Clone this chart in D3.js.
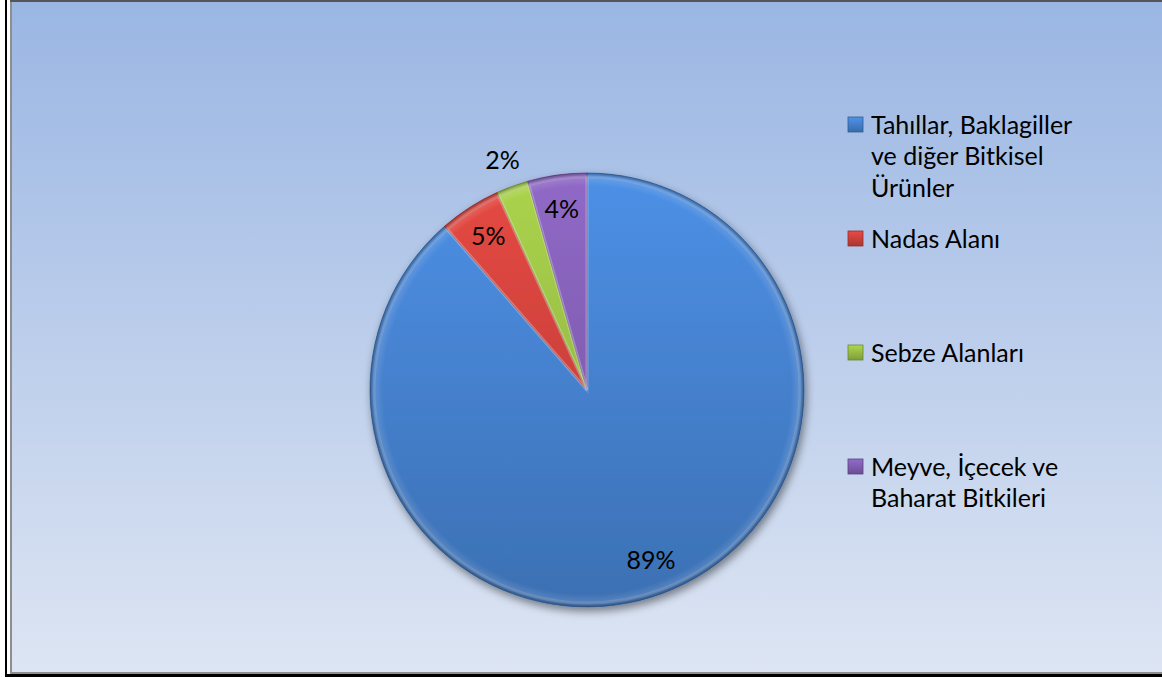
<!DOCTYPE html>
<html>
<head>
<meta charset="utf-8">
<script src="https://cdn.jsdelivr.net/npm/d3@7"></script>
<style>
  html, body { margin: 0; padding: 0; background: #fff; }
  svg { display: block; }
</style>
</head>
<body>
<div id="chart"></div>
<script>
// data
const categories = ["Tahıllar, Baklagiller ve diğer Bitkisel Ürünler", "Nadas Alanı", "Sebze Alanları", "Meyve, İçecek ve Baharat Bitkileri"];
const values = [88.6, 4.6, 2.4, 4.4];

const width = 1162, height = 677;
const cx = 587, cy = 390, radius = 217;
const fontFamily = "Lato, 'Open Sans', sans-serif";
const fontSize = 25;

const color = d3.scaleOrdinal()
    .domain(categories)
    .range(["#4684d2", "#d2433d", "#9cc246", "#8460b6"]);

const total = d3.sum(values);
const pct = d3.format(".0%");

const svg = d3.select("#chart").append("svg")
    .attr("width", width)
    .attr("height", height);

const defs = svg.append("defs");

// background gradient of the plot frame
const bg = defs.append("linearGradient")
    .attr("id", "bg").attr("x1", 0).attr("y1", 0).attr("x2", 0).attr("y2", 1);
bg.append("stop").attr("offset", "0%").attr("stop-color", "#9ab6e3");
bg.append("stop").attr("offset", "100%").attr("stop-color", "#dde5f3");

// shadow under the pie
const sh = defs.append("filter").attr("id", "shadow")
    .attr("x", "-20%").attr("y", "-20%").attr("width", "140%").attr("height", "140%");
sh.append("feDropShadow")
    .attr("dx", 2).attr("dy", 4).attr("stdDeviation", 4)
    .attr("flood-color", "#000").attr("flood-opacity", 0.45);

// frame lines
svg.append("rect").attr("x", 5).attr("y", 0).attr("width", 2).attr("height", 677).attr("fill", "#000");
svg.append("rect").attr("x", 5).attr("y", 674).attr("width", width - 5).attr("height", 3).attr("fill", "#000");
svg.append("rect").attr("x", 10).attr("y", 0).attr("width", width - 10).attr("height", 674).attr("fill", "#8e8e8e");
svg.append("rect").attr("x", 12).attr("y", 2).attr("width", width - 12).attr("height", 670).attr("fill", "url(#bg)");
svg.append("rect").attr("x", 10).attr("y", 0).attr("width", width - 10).attr("height", 2).attr("fill", "#555");

// slice gradients
categories.forEach((c, i) => {
    const base = d3.color(color(c));
    const g = defs.append("linearGradient")
        .attr("id", "grad" + i)
        .attr("gradientUnits", "userSpaceOnUse")
        .attr("x1", 0).attr("y1", -radius).attr("x2", 0).attr("y2", radius);
    g.append("stop").attr("offset", "0%").attr("stop-color", base.brighter(0.25));
    g.append("stop").attr("offset", "100%").attr("stop-color", base.darker(0.45));
});

// rim shading
const rim = defs.append("radialGradient")
    .attr("id", "rim").attr("gradientUnits", "userSpaceOnUse")
    .attr("cx", 0).attr("cy", 0).attr("r", radius);
rim.append("stop").attr("offset", "0%").attr("stop-color", "#fff").attr("stop-opacity", 0);
rim.append("stop").attr("offset", "94%").attr("stop-color", "#fff").attr("stop-opacity", 0);
rim.append("stop").attr("offset", "97%").attr("stop-color", "#fff").attr("stop-opacity", 0.1);
rim.append("stop").attr("offset", "100%").attr("stop-color", "#000").attr("stop-opacity", 0.28);

const pie = d3.pie().sort(null).value(d => d);
const arcs = pie(values);

const arc = d3.arc().innerRadius(0).outerRadius(radius);
const inner = d3.arc().innerRadius(0).outerRadius(radius - 4);
const labelIn = d3.arc().innerRadius(radius * 0.84).outerRadius(radius * 0.84);
const labelOut = d3.arc().innerRadius(radius * 1.13).outerRadius(radius * 1.13);

const g = svg.append("g").attr("transform", `translate(${cx},${cy})`);

const slices = g.append("g").attr("filter", "url(#shadow)");
slices.selectAll("path")
    .data(arcs)
    .join("path")
    .attr("d", arc)
    .attr("fill", (d, i) => `url(#grad${i})`)
    .attr("stroke", (d, i) => d3.color(color(categories[i])).darker(0.8))
    .attr("stroke-width", 0.8)
    .attr("stroke-linejoin", "round");

// bevel highlight on each wedge
g.append("g").selectAll("path")
    .data(arcs)
    .join("path")
    .attr("d", inner)
    .attr("fill", "none")
    .attr("stroke", "#fff")
    .attr("stroke-opacity", 0.15)
    .attr("stroke-width", 3);

g.append("circle").attr("r", radius).attr("fill", "url(#rim)").attr("pointer-events", "none");

// percentage labels
g.append("g").selectAll("text")
    .data(arcs)
    .join("text")
    .attr("transform", d => `translate(${(d.value / total < 0.03 ? labelOut : labelIn).centroid(d)})`)
    .attr("text-anchor", "middle")
    .attr("dy", "0.35em")
    .style("font-family", fontFamily)
    .style("font-size", fontSize + "px")
    .attr("fill", "#000")
    .text(d => pct(d.value / total));

// legend
const ly = d3.scalePoint().domain(categories).range([125, 467]);
const legend = svg.append("g");

categories.forEach((c, i) => {
    const base = d3.color(color(c));
    const lg = defs.append("linearGradient")
        .attr("id", "lgrad" + i).attr("x1", 0).attr("y1", 0).attr("x2", 0).attr("y2", 1);
    lg.append("stop").attr("offset", "0%").attr("stop-color", base.brighter(0.3));
    lg.append("stop").attr("offset", "100%").attr("stop-color", base.darker(0.6));
});

const item = legend.selectAll("g")
    .data(categories)
    .join("g")
    .attr("transform", d => `translate(0,${ly(d)})`);

item.append("rect")
    .attr("x", 848).attr("y", -8).attr("width", 15).attr("height", 15)
    .attr("fill", (d, i) => `url(#lgrad${i})`)
    .attr("stroke", (d, i) => d3.color(color(d)).darker(1))
    .attr("stroke-width", 0.8);

item.append("text")
    .attr("x", 871)
    .attr("y", 0)
    .style("font-family", fontFamily)
    .style("font-size", fontSize + "px")
    .attr("fill", "#000")
    .each(function(d) { wrap(d3.select(this), d, 212); });

function wrap(text, str, maxWidth) {
    const words = str.split(/\s+/);
    let line = [];
    let tspan = text.append("tspan").attr("x", 871).attr("dy", "0.35em");
    words.forEach(w => {
        line.push(w);
        tspan.text(line.join(" "));
        if (tspan.node().getComputedTextLength() > maxWidth && line.length > 1) {
            line.pop();
            tspan.text(line.join(" "));
            line = [w];
            tspan = text.append("tspan").attr("x", 871).attr("dy", 31.5).text(w);
        }
    });
}
</script>
</body>
</html>
